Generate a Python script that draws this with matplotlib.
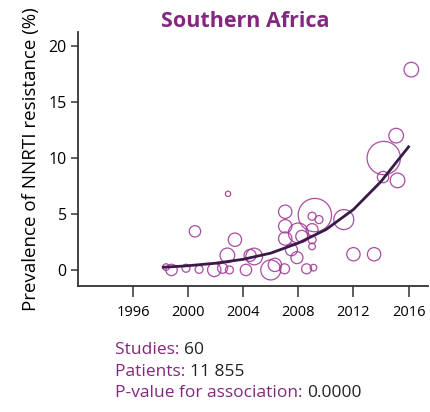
import numpy as np
import matplotlib
matplotlib.use('Agg')
from matplotlib import pyplot as plt

plt.rcParams['font.family'] = ['Open Sans', 'DejaVu Sans']

# Study bubbles: year, prevalence (%), estimated number of patients
years = [2016.2, 2015.1, 2014.2, 2014.15, 2015.2, 2011.3, 2009.2, 2009.0, 2009.5,
         2007.05, 2007.05, 2007.05, 2008.0, 2008.25, 2009.0, 2009.0, 2009.0,
         2007.5, 2007.9, 2008.6, 2009.1, 2012.0, 2013.5, 2007.0, 2006.3, 2006.0,
         2004.8, 2004.5, 2004.2, 2003.4, 2002.9, 2002.85, 2002.5, 2003.0, 2001.9,
         2000.5, 2000.8, 1999.85, 1998.8, 1998.4]
prevalence = [17.9, 12.0, 10.0, 8.3, 8.0, 4.5, 4.9, 4.8, 4.5,
              5.2, 3.9, 2.8, 3.3, 3.0, 3.6, 2.7, 2.1,
              1.8, 1.1, 0.1, 0.2, 1.4, 1.4, 0.1, 0.45, 0.0,
              1.2, 1.3, 0.0, 2.7, 6.8, 1.3, 0.15, 0.0, 0.0,
              3.45, 0.05, 0.15, 0.0, 0.25]
patients = [290, 290, 1500, 175, 290, 540, 1500, 86, 86,
            240, 240, 240, 540, 195, 195, 86, 60,
            195, 195, 135, 60, 240, 240, 135, 240, 540,
            375, 195, 175, 240, 38, 290, 135, 86, 240,
            175, 86, 86, 175, 60]

# Fitted trend
trend_years = [1998.2, 1999.85, 2002, 2004, 2006, 2008, 2010, 2012, 2014, 2016]
trend_values = [0.24, 0.36, 0.6, 0.95, 1.5, 2.4, 3.6, 5.4, 7.9, 11.0]

x_ticks = [1996, 2000, 2004, 2008, 2012, 2016]
y_ticks = [0, 5, 10, 15, 20]

purple = '#82287F'
ring = '#A03A98'

fig = plt.figure(figsize=(4.30, 4.12), dpi=100)
ax = fig.add_axes([0.181, 0.306, 0.814, 0.616])

ax.scatter(years, prevalence, s=np.array(patients) * 0.384,
           facecolors='none', edgecolors=ring, linewidths=0.9, alpha=0.9)
ax.plot(trend_years, trend_values, color='#3A1A48', linewidth=2.0)

ax.set_xlim(1992.0, 2017.4)
ax.set_ylim(-1.43, 21.25)
ax.set_xticks(x_ticks)
ax.set_yticks(y_ticks)
ax.tick_params(axis='x', length=8, width=1.1, color='#333333', labelsize=10.5, pad=6)
ax.tick_params(axis='y', length=5, width=1.1, color='#333333', labelsize=11.5, pad=3)
for s in ['top', 'right']:
    ax.spines[s].set_visible(False)
for s in ['left', 'bottom']:
    ax.spines[s].set_linewidth(1.3)
    ax.spines[s].set_color('#333333')

ax.set_ylabel('Prevalence of NNRTI resistance (%)', fontsize=13.5, labelpad=6)

fig.text(0.57, 0.948, 'Southern Africa', color=purple, fontsize=15.5,
         fontweight='bold', ha='center', va='center')

lines = [('Studies: ', '60'), ('Patients: ', '11 855'),
         ('P-value for association: ', '0.0000')]
y = 0.150
for label, value in lines:
    t = fig.text(0.267, y, label, color=purple, fontsize=12.5, va='center')
    fig.canvas.draw()
    bb = t.get_window_extent()
    fig.text(bb.x1 / fig.bbox.width, y, value, color='#222222', fontsize=12.5, va='center')
    y -= 0.052

fig.savefig('out.png', dpi=100)
